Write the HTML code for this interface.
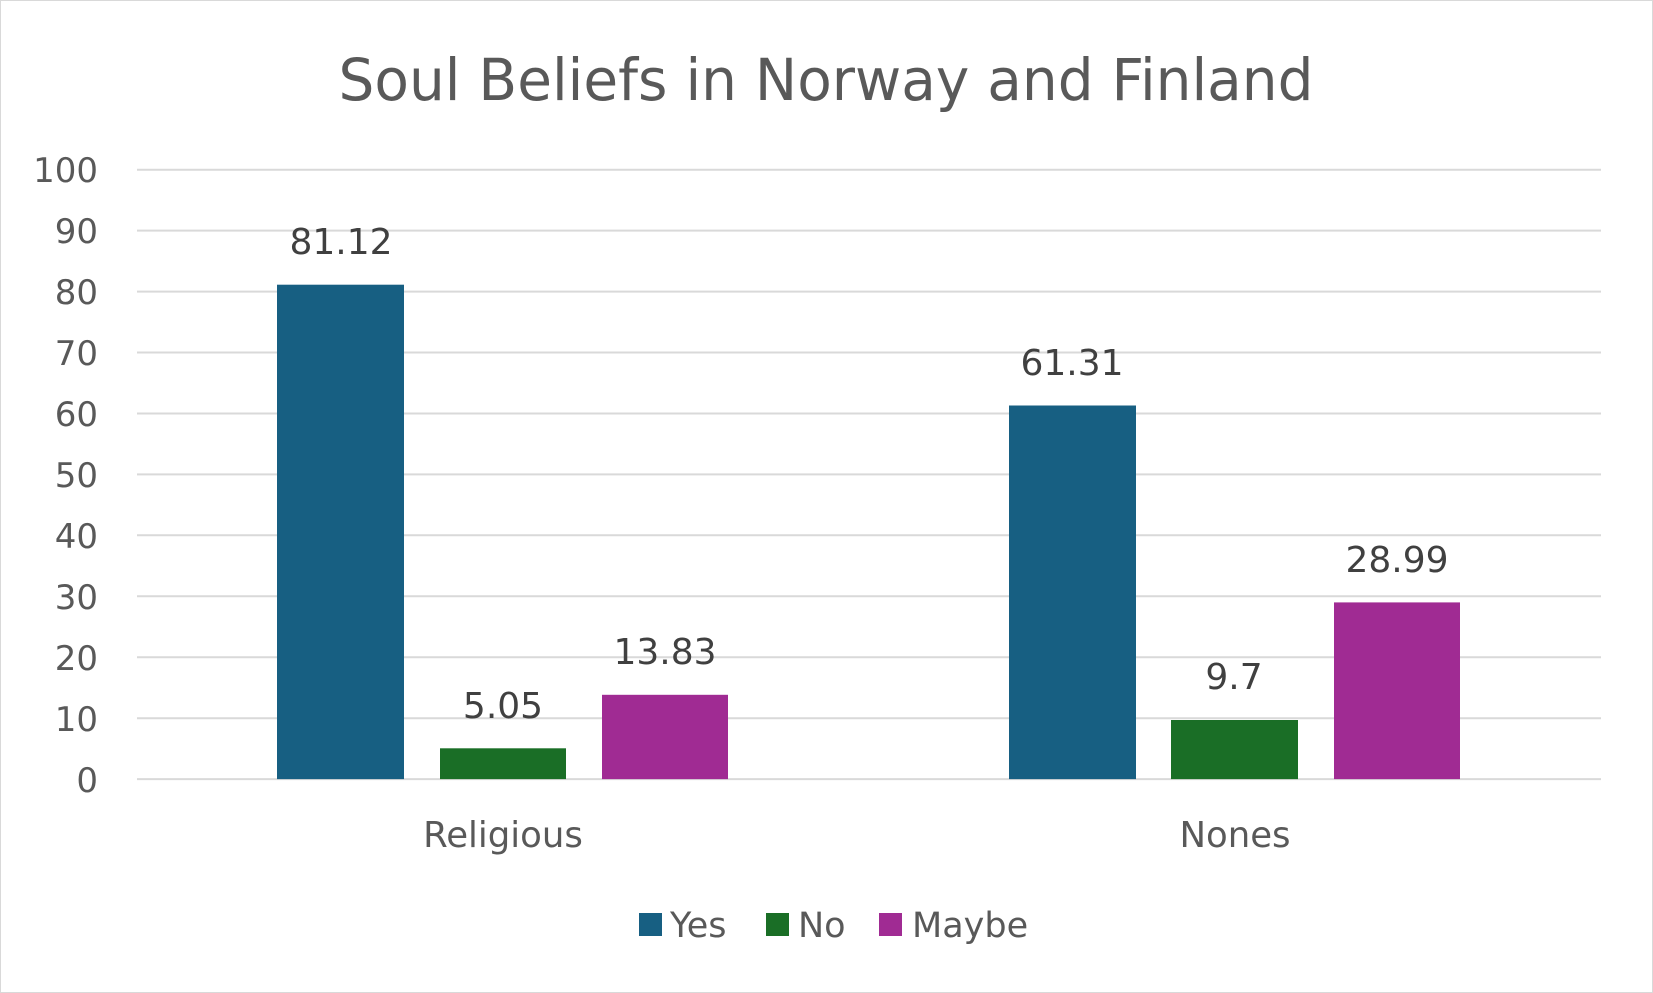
<!DOCTYPE html>
<html><head><meta charset="utf-8"><style>
html,body{margin:0;padding:0;background:#fff;}
svg{display:block;font-family:"DejaVu Sans","Liberation Sans",sans-serif;}
</style></head><body>
<svg width="1653" height="993" viewBox="0 0 1653 993">
<rect x="0.5" y="0.5" width="1652" height="992" fill="#fff" stroke="#d9d9d9"/>
<text x="826" y="100" font-size="58" fill="#595959" text-anchor="middle" textLength="975" lengthAdjust="spacingAndGlyphs">Soul Beliefs in Norway and Finland</text>
<g stroke="#d9d9d9" stroke-width="2">
<line x1="137" x2="1601" y1="169.7" y2="169.7"/>
<line x1="137" x2="1601" y1="230.6" y2="230.6"/>
<line x1="137" x2="1601" y1="291.6" y2="291.6"/>
<line x1="137" x2="1601" y1="352.5" y2="352.5"/>
<line x1="137" x2="1601" y1="413.5" y2="413.5"/>
<line x1="137" x2="1601" y1="474.4" y2="474.4"/>
<line x1="137" x2="1601" y1="535.3" y2="535.3"/>
<line x1="137" x2="1601" y1="596.3" y2="596.3"/>
<line x1="137" x2="1601" y1="657.2" y2="657.2"/>
<line x1="137" x2="1601" y1="718.2" y2="718.2"/>
<line x1="137" x2="1601" y1="779.1" y2="779.1"/>
</g>
<g font-size="34" fill="#595959" text-anchor="end">
<text x="98" y="182">100</text>
<text x="98" y="243">90</text>
<text x="98" y="304">80</text>
<text x="98" y="365">70</text>
<text x="98" y="426">60</text>
<text x="98" y="487">50</text>
<text x="98" y="548">40</text>
<text x="98" y="609">30</text>
<text x="98" y="670">20</text>
<text x="98" y="731">10</text>
<text x="98" y="792">0</text>
</g>
<rect x="277" y="284.7" width="127" height="494.4" fill="#175f82"/>
<rect x="440" y="748.3" width="126" height="30.8" fill="#1a6e26"/>
<rect x="602" y="694.8" width="126" height="84.3" fill="#a02b93"/>
<rect x="1009" y="405.5" width="127" height="373.6" fill="#175f82"/>
<rect x="1171" y="720" width="127" height="59.1" fill="#1a6e26"/>
<rect x="1334" y="602.4" width="126" height="176.7" fill="#a02b93"/>
<g font-size="36" fill="#404040" text-anchor="middle">
<text x="341" y="254">81.12</text>
<text x="503" y="718">5.05</text>
<text x="665" y="664">13.83</text>
<text x="1072" y="375">61.31</text>
<text x="1234" y="689">9.7</text>
<text x="1397" y="572">28.99</text>
</g>
<g font-size="35.5" fill="#595959" text-anchor="middle">
<text x="503" y="847">Religious</text>
<text x="1235" y="847">Nones</text>
</g>
<rect x="639" y="913" width="23" height="23" fill="#175f82"/>
<rect x="766" y="913" width="23" height="23" fill="#1a6e26"/>
<rect x="879" y="913" width="23" height="23" fill="#a02b93"/>
<g font-size="35" fill="#595959">
<text x="670" y="937">Yes</text>
<text x="798" y="937">No</text>
<text x="912" y="937">Maybe</text>
</g>
</svg>
</body></html>
